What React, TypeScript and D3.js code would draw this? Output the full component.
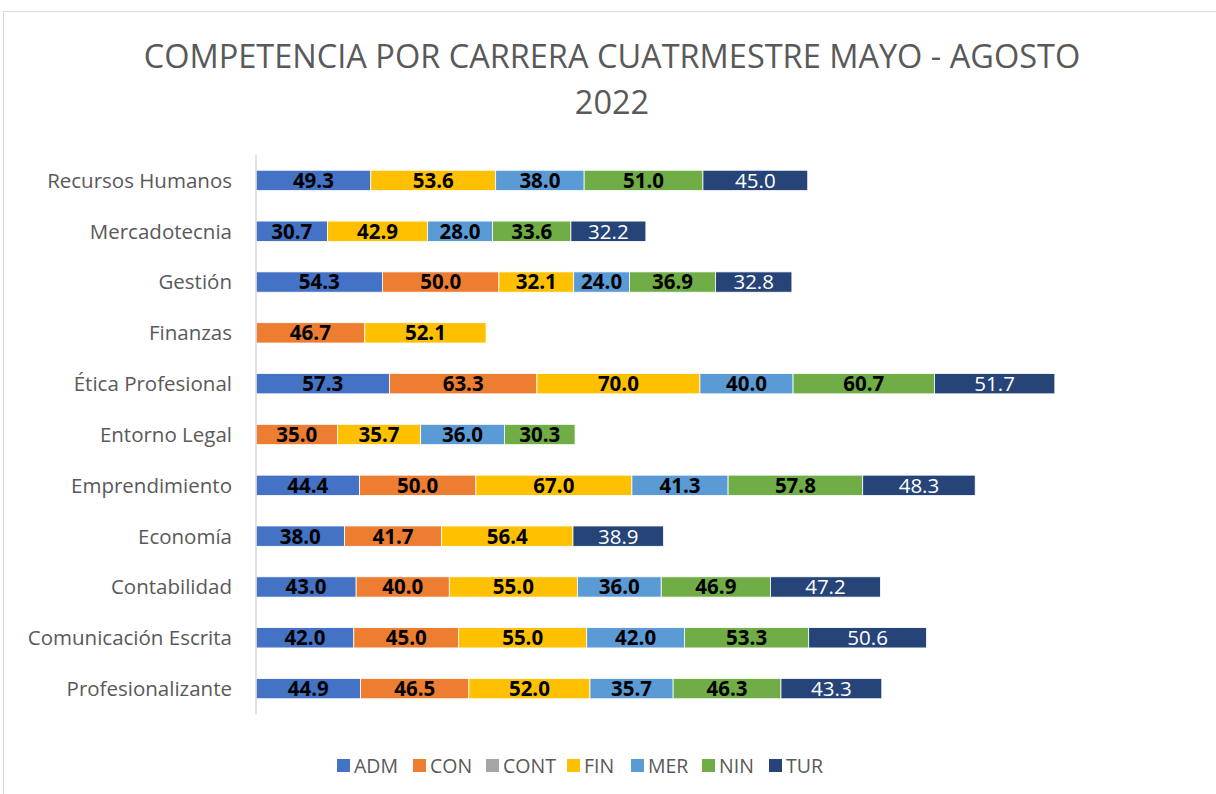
import React, { useEffect, useRef } from 'react';
import * as d3 from 'd3';

const categories = [
  'Recursos Humanos', 'Mercadotecnia', 'Gestión', 'Finanzas', 'Ética Profesional',
  'Entorno Legal', 'Emprendimiento', 'Economía', 'Contabilidad', 'Comunicación Escrita', 'Profesionalizante',
];
const seriesNames = ['ADM', 'CON', 'CONT', 'FIN', 'MER', 'NIN', 'TUR'];
const seriesColors = ['#4472c4', '#ed7d31', '#a5a5a5', '#ffc000', '#5b9bd5', '#70ad47', '#264478'];

// values per category, in the order of seriesNames (0 = no value)
const ADM = [49.3, 30.7, 54.3, 0, 57.3, 0, 44.4, 38.0, 43.0, 42.0, 44.9];
const CON = [0, 0, 50.0, 46.7, 63.3, 35.0, 50.0, 41.7, 40.0, 45.0, 46.5];
const CONT = [0, 0, 0, 0, 0, 0, 0, 0, 0, 0, 0];
const FIN = [53.6, 42.9, 32.1, 52.1, 70.0, 35.7, 67.0, 56.4, 55.0, 55.0, 52.0];
const MER = [38.0, 28.0, 24.0, 0, 40.0, 36.0, 41.3, 0, 36.0, 42.0, 35.7];
const NIN = [51.0, 33.6, 36.9, 0, 60.7, 30.3, 57.8, 0, 46.9, 53.3, 46.3];
const TUR = [45.0, 32.2, 32.8, 0, 51.7, 0, 48.3, 38.9, 47.2, 50.6, 43.3];

const seriesValues = [ADM, CON, CONT, FIN, MER, NIN, TUR];

const W = 1216;
const H = 794;
const FONT = 'Open Sans, Noto Sans, sans-serif';

const App = () => {
  const svgRef = useRef<SVGSVGElement>(null);

  useEffect(() => {
    const svg = d3.select(svgRef.current);
    svg.selectAll('*').remove();

    const rows = categories.map((c, i) => {
      const r: any = { cat: c };
      seriesNames.forEach((s, j) => { r[s] = seriesValues[j][i]; });
      return r;
    });
    const stacked = d3.stack().keys(seriesNames)(rows);

    const x = d3.scaleLinear().domain([0, 400]).range([256, 1187.6]);
    const y = d3.scaleBand().domain(categories).range([155, 714]).paddingInner(0.6).paddingOuter(0.3);

    // chart frame
    svg.append('rect')
      .attr('x', 3.5).attr('y', 11.5)
      .attr('width', W + 10).attr('height', H + 10)
      .attr('fill', 'white').attr('stroke', '#d9d9d9');

    // title
    const title = svg.append('text')
      .attr('x', 612).attr('text-anchor', 'middle')
      .attr('font-family', FONT).attr('font-size', 32.5).attr('fill', '#595959');
    title.append('tspan').attr('x', 612).attr('y', 68).text('COMPETENCIA POR CARRERA CUATRMESTRE MAYO - AGOSTO');
    title.append('tspan').attr('x', 612).attr('y', 114).text('2022');

    // bars
    stacked.forEach((layer, j) => {
      const g = svg.append('g');
      layer.forEach((d, i) => {
        const v = d[1] - d[0];
        if (!v) return;
        const x0 = x(d[0]);
        const w = x(d[1]) - x0;
        const yy = y(categories[i])!;
        g.append('rect')
          .attr('x', x0).attr('y', yy)
          .attr('width', w).attr('height', y.bandwidth())
          .attr('fill', seriesColors[j])
          .attr('stroke', 'white').attr('stroke-width', 0.8);
        const isTur = seriesNames[j] === 'TUR';
        g.append('text')
          .attr('x', x0 + w / 2)
          .attr('y', yy + y.bandwidth() / 2)
          .attr('dy', '0.36em')
          .attr('text-anchor', 'middle')
          .attr('font-family', FONT)
          .attr('font-size', 20.5)
          .attr('font-weight', isTur ? 'normal' : 'bold')
          .attr('fill', isTur ? 'white' : 'black')
          .text(d3.format('.1f')(v));
      });
    });

    // category axis
    svg.append('line')
      .attr('x1', 256).attr('x2', 256).attr('y1', 155).attr('y2', 714)
      .attr('stroke', '#d9d9d9').attr('stroke-width', 1.5);
    categories.forEach(c => {
      svg.append('text')
        .attr('x', 232).attr('y', y(c)! + y.bandwidth() / 2)
        .attr('dy', '0.36em').attr('text-anchor', 'end')
        .attr('font-family', FONT).attr('font-size', 20.5).attr('fill', '#595959')
        .text(c);
    });

    // legend
    const legendX = [337, 413, 486, 567, 631, 702, 769];
    seriesNames.forEach((s, j) => {
      const lg = svg.append('g').attr('transform', `translate(${legendX[j]}, 766)`);
      lg.append('rect').attr('x', 0).attr('y', -7).attr('width', 13).attr('height', 13).attr('fill', seriesColors[j]);
      lg.append('text').attr('x', 17).attr('dy', '0.36em')
        .attr('font-family', FONT).attr('font-size', 19.5).attr('fill', '#595959').text(s);
    });
  }, []);

  return (
    <svg ref={svgRef} width={W} height={H}
      style={{ position: 'absolute', left: 0, top: 0, background: 'white' }} />
  );
};

export default App;
